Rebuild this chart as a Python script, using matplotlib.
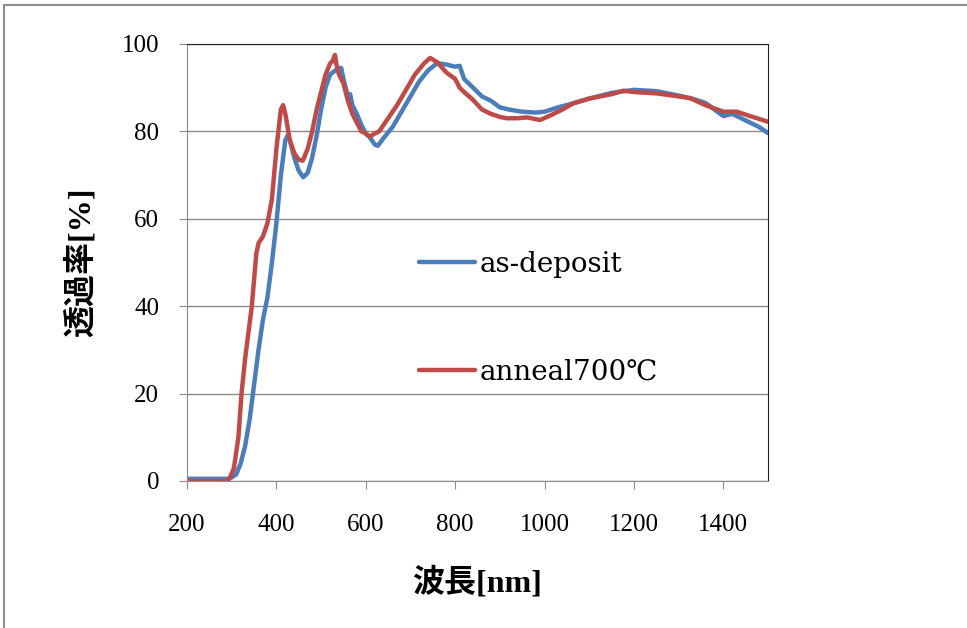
import numpy as np
import matplotlib
matplotlib.use('Agg')
import matplotlib.pyplot as plt
from matplotlib.patches import Rectangle

# transmittance spectra
wl_dep = [200, 290, 300, 310, 320, 330, 340, 350, 360, 370, 380, 390, 400, 410, 420, 425,
          430, 440, 450, 460, 470, 480, 490, 500, 510, 520, 530, 540, 545, 550, 560, 565,
          570, 580, 590, 600, 610, 620, 627, 640, 660, 680, 700, 720, 740, 760, 780, 800,
          810, 820, 840, 860, 880, 900, 920, 950, 980, 1000, 1030, 1060, 1100, 1150, 1200,
          1250, 1300, 1330, 1360, 1380, 1400, 1420, 1450, 1480, 1500]
t_dep = [0.5, 0.5, 0.8, 1.5, 4, 8, 14, 22, 30, 37, 42, 50, 59, 70, 78, 79,
         78, 74, 71, 69.5, 70.5, 74, 79, 85, 90, 93, 93.8, 94.5, 94.5, 92, 88, 88.5,
         86, 84, 81.5, 79.5, 78.5, 77, 76.7, 78.5, 81, 84.5, 88, 91.5, 94, 95.6, 95.3, 94.8,
         95, 92, 90, 88, 87, 85.5, 85, 84.5, 84.3, 84.5, 85.5, 86.3, 87.5, 88.8, 89.5,
         89.2, 88.2, 87.5, 86.5, 85, 83.5, 84, 82.5, 81, 79.6]

wl_ann = [200, 290, 296, 305, 315, 322, 330, 340, 345, 350, 355, 360, 370, 380, 390, 400,
          410, 415, 420, 430, 440, 450, 459, 470, 480, 490, 500, 510, 520, 525, 531, 535,
          540, 550, 560, 570, 580, 590, 600, 609, 620, 630, 650, 670, 690, 710, 730, 744,
          760, 780, 800, 810, 820, 840, 860, 880, 900, 915, 940, 960, 990, 1010, 1040, 1064,
          1100, 1150, 1176, 1200, 1250, 1300, 1326, 1360, 1400, 1430, 1460, 1500]
t_ann = [0, 0, 0.7, 3, 10, 20, 28, 36, 40, 46, 52, 54.4, 56, 59, 64.5, 76,
         85, 86, 84, 78, 75, 73.5, 73.3, 76, 80, 85, 89, 93, 95.5, 96, 97.5, 95,
         93, 91, 87, 84, 82, 80, 79.5, 78.8, 79.5, 80, 83, 86, 89.5, 93, 95.5, 96.8,
         95.8, 93.5, 92, 90, 89, 87.2, 85, 84, 83.3, 83, 83, 83.2, 82.6, 83.5, 85, 86.4,
         87.5, 88.5, 89.3, 89, 88.7, 88, 87.6, 86, 84.5, 84.5, 83.5, 82.2]

labels = ['as-deposit', 'anneal700\u2103']
xticks = [200, 400, 600, 800, 1000, 1200, 1400]
yticks = [0, 20, 40, 60, 80, 100]

plt.rcParams['font.family'] = ['Liberation Serif', 'Noto Sans CJK JP']

fig = plt.figure(figsize=(9.67, 6.28), dpi=100)
# outer chart-area border
fig.patches.append(Rectangle((4 / 967, -0.1), 1.2, 1.1 - 5 / 628, transform=fig.transFigure,
                             fill=False, edgecolor='#8c8c8c', linewidth=1.5))

ax = fig.add_axes([0.1934, 0.2341, 0.6008, 0.6959])
ax.plot(wl_dep, t_dep, color='#4a7ebb', linewidth=3.2, label=labels[0], solid_capstyle='round')
ax.plot(wl_ann, t_ann, color='#be4b48', linewidth=3.2, label=labels[1], solid_capstyle='round')

ax.set_xlim(200, 1500)
ax.set_ylim(0, 100)
ax.set_xticks(xticks)
ax.set_yticks(yticks)
ax.grid(axis='y', color='#8c8c8c', linewidth=1)
ax.set_axisbelow(True)
ax.tick_params(axis='both', direction='out', length=6, color='#8c8c8c', labelsize=18)
ax.tick_params(axis='x', pad=18)
ax.tick_params(axis='y', pad=14)
for s in ['left', 'bottom']:
    ax.spines[s].set_color('#8c8c8c')
for s in ['top', 'right']:
    ax.spines[s].set_color('#222222')

ax.set_xlabel('波長[nm]', fontsize=23, fontweight='bold', labelpad=22)
ax.set_ylabel('透過率[%]', fontsize=23, fontweight='bold', labelpad=18)

ax.legend(loc='center left', bbox_to_anchor=(0.40, 0.372), frameon=False,
          prop={'family': ['DejaVu Serif', 'Noto Sans CJK JP'], 'size': 20},
          handlelength=2.0, handletextpad=0.15, labelspacing=2.9, borderpad=0, borderaxespad=0)

plt.savefig('out.png', dpi=100)
